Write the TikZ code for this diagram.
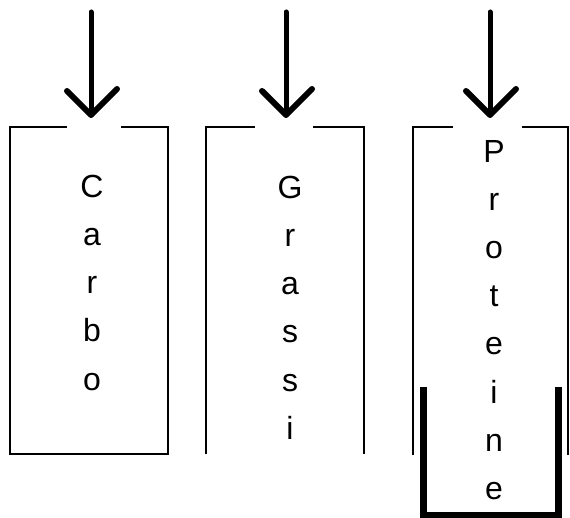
\documentclass[tikz,border=0pt]{standalone}
\usepackage{fontspec}
\setmainfont{Liberation Sans}
\begin{document}
\begin{tikzpicture}[x=1pt,y=-1pt,
  boxline/.style={line width=1.5pt,black},
  shaft/.style={line width=5pt,black,line cap=round},
  chevron/.style={line width=6pt,black,line cap=round,line join=round},
  cup/.style={line width=7pt,black,line join=miter},
  letter/.style={font=\fontsize{32}{38}\selectfont,anchor=base,inner sep=0pt}]
\useasboundingbox (0,0) rectangle (570,518);
% box outlines
\draw[boxline] (67,127) -- (10,127) -- (10,454) -- (168,454) -- (168,127) -- (121,127);
\draw[boxline] (255,127) -- (206,127) -- (206,454);
\draw[boxline] (313,127) -- (364,127) -- (364,454);
\draw[boxline] (453,127) -- (413,127) -- (413,455);
\draw[boxline] (522,127) -- (568,127) -- (568,455);
% arrows
\foreach \n/\x in {a/91,b/286,c/490}{
  \coordinate (top\n) at (\x,12);
  \coordinate (tip\n) at (\x,115);
  \coordinate (l\n) at (\x-24,91);
  \coordinate (r\n) at (\x+26,89);
  \draw[shaft] (top\n) -- (tip\n);
  \draw[chevron] (l\n) -- (tip\n) -- (r\n);
}
% letters
\foreach \ch [count=\i from 0] in {C,a,r,b,o}
  \node[letter] (carbo\i) at (92,198+48*\i) {\ch};
\foreach \ch [count=\i from 0] in {G,r,a,s,s,i}
  \node[letter] (grassi\i) at (290,199+48*\i) {\ch};
\foreach \ch [count=\i from 0] in {P,r,o,t,e,i,n,e}
  \node[letter] (prot\i) at (494,163+48*\i) {\ch};
% thick cup
\draw[cup] (423,387) -- (423,515) -- (558,515) -- (558,387);
\end{tikzpicture}
\end{document}
